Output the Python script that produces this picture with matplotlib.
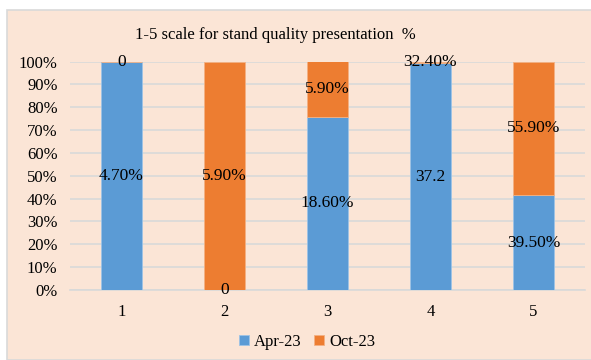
import matplotlib
matplotlib.use('Agg')
import matplotlib.pyplot as plt
import numpy as np

categories = ['1', '2', '3', '4', '5']
apr_values = [4.70, 0, 18.60, 37.2, 39.50]
oct_values = [0, 5.90, 5.90, 0.324, 55.90]
apr_labels = ['4.70%', '0', '18.60%', '37.2', '39.50%']
oct_labels = ['0', '5.90%', '5.90%', '32.40%', '55.90%']
series_names = ['Apr-23', 'Oct-23']
title = '1-5 scale for stand quality presentation  %'

BLUE = '#5B9BD5'
ORANGE = '#ED7D31'
BG = '#FBE5D6'

plt.rcParams['font.family'] = ['Liberation Serif', 'DejaVu Serif']

apr = np.array(apr_values)
octv = np.array(oct_values)
total = apr + octv
apr_pct = apr / total * 100
oct_pct = octv / total * 100

fig = plt.figure(figsize=(5.91, 3.6), dpi=100)
fig.patch.set_facecolor('white')
# chart area box (behind the axes)
box = plt.Rectangle((7 / 591, 0), 1, 1 - 10 / 360, transform=fig.transFigure,
                    facecolor=BG, edgecolor='#D9D9D9', lw=1.2, zorder=-10)
fig.add_artist(box)

ax = fig.add_axes([70 / 591, 1 - 290 / 360, (585 - 70) / 591, (290 - 61.5) / 360])
ax.set_facecolor('none')
x = np.arange(len(categories))
w = 0.40
b1 = ax.bar(x, apr_pct, w, color=BLUE, edgecolor='#9DC3E6', lw=0.6, label=series_names[0], zorder=3)
b2 = ax.bar(x, oct_pct, w, bottom=apr_pct, color=ORANGE, edgecolor='#F4B183', lw=0.6,
            label=series_names[1], zorder=3)

for i in range(len(categories)):
    ax.text(x[i], apr_pct[i] / 2, apr_labels[i], ha='center', va='center', fontsize=12.5, zorder=5)
    ax.text(x[i], apr_pct[i] + oct_pct[i] / 2, oct_labels[i], ha='center', va='center',
            fontsize=12.5, zorder=5)

ax.set_xlim(-0.5, len(categories) - 0.5)
ax.set_ylim(0, 100)
ax.set_yticks(np.arange(0, 101, 10))
ax.set_yticklabels([f'{v}%' for v in range(0, 101, 10)], fontsize=12)
ax.set_xticks(x)
ax.set_xticklabels(categories, fontsize=12)
ax.tick_params(length=0, pad=9)
ax.tick_params(axis='x', pad=10)
ax.yaxis.grid(True, color='#D9D9D9', lw=1.2, zorder=0)
ax.set_axisbelow(True)
for s in ['top', 'right', 'left']:
    ax.spines[s].set_visible(False)
ax.spines['bottom'].set_color('#D9D9D9')
ax.spines['bottom'].set_linewidth(1.2)

fig.text(275 / 591, 1 - 35 / 360, title, ha='center', va='center', fontsize=12)

fig.legend(handles=[b1, b2], loc='center', bbox_to_anchor=(307 / 591, 1 - 342 / 360), ncol=2,
           frameon=False, fontsize=12, handlelength=0.6, handleheight=0.6, handletextpad=0.3,
           columnspacing=0.8)

fig.savefig('out.png', dpi=100, facecolor=fig.get_facecolor())
